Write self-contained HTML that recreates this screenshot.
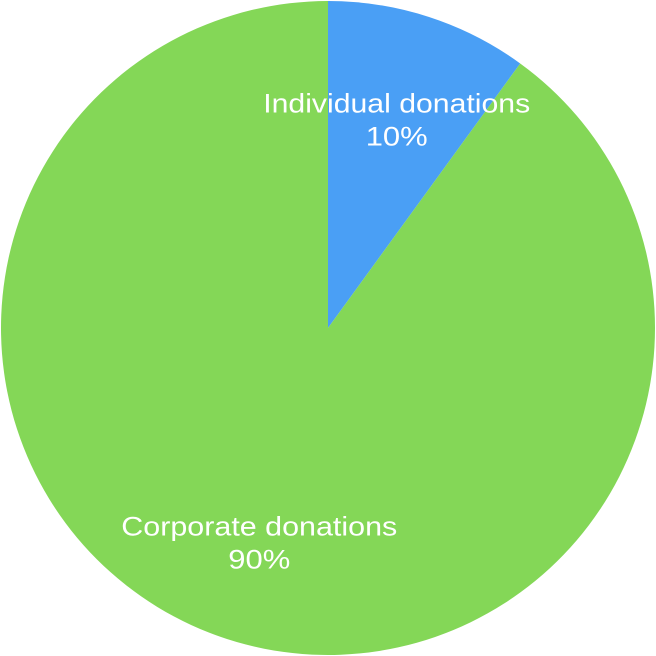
<!DOCTYPE html>
<html><head><meta charset="utf-8"><style>
html,body{margin:0;padding:0;background:#fff;}
svg{display:block;}
text{font-family:"Liberation Sans",Helvetica,Arial,sans-serif;fill:#fff;}
</style></head><body>
<svg id="chart" width="656" height="656" viewBox="0 0 656 656"></svg>
<script>
const categories = ["Individual donations", "Corporate donations"];
const values = [10, 90];
const valueLabels = ["10%", "90%"];
const colors = ["#4a9ff5", "#84d757"];

const labelWidths = [267, 276];
const svg = document.getElementById('chart');
const NS = 'http://www.w3.org/2000/svg';
const cx = 328, cy = 328, R = 327;
const total = values.reduce((a, b) => a + b, 0);
function pt(angle, r) { return [cx + r * Math.sin(angle), cy - r * Math.cos(angle)]; }
const labels = [];
let start = 0;
values.forEach((v, i) => {
  const sweep = v / total * Math.PI * 2;
  const end = start + sweep;
  const [x1, y1] = pt(start, R), [x2, y2] = pt(end, R);
  const large = sweep > Math.PI ? 1 : 0;
  const p = document.createElementNS(NS, 'path');
  p.setAttribute('d', `M${cx},${cy} L${x1},${y1} A${R},${R} 0 ${large} 1 ${x2},${y2} Z`);
  p.setAttribute('fill', colors[i]);
  
  
  svg.appendChild(p);
  labels.push([start + sweep / 2, i]);
  start = end;
});
labels.forEach(([mid, i]) => {
  const [lx, ly] = pt(mid, R * 0.68);
  const t1 = document.createElementNS(NS, 'text');
  t1.setAttribute('x', lx); t1.setAttribute('y', ly - 4);
  t1.setAttribute('text-anchor', 'middle');
  t1.setAttribute('font-size', '27');
  t1.setAttribute('textLength', labelWidths[i] || categories[i].length * 13.8);
  t1.setAttribute('lengthAdjust', 'spacingAndGlyphs');
  t1.textContent = categories[i];
  
  
  svg.appendChild(t1);
  const t2 = document.createElementNS(NS, 'text');
  t2.setAttribute('x', lx); t2.setAttribute('y', ly + 29);
  t2.setAttribute('text-anchor', 'middle');
  t2.setAttribute('font-size', '27');
  t2.setAttribute('textLength', '62');
  t2.setAttribute('lengthAdjust', 'spacingAndGlyphs');
  t2.textContent = valueLabels[i];
  
  
  svg.appendChild(t2);
});
</script>
</body></html>
